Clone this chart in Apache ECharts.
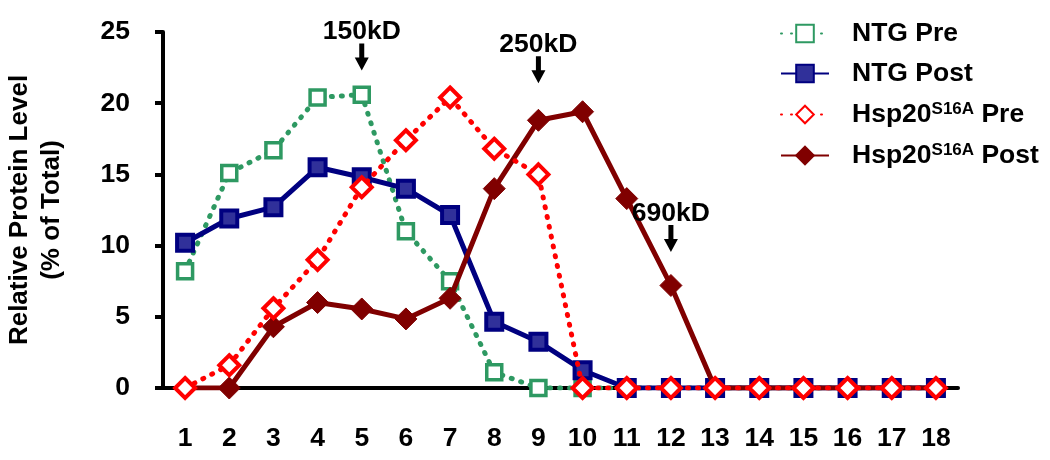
<!DOCTYPE html>
<html>
<head>
<meta charset="utf-8">
<script src="https://cdn.jsdelivr.net/npm/echarts@6/dist/echarts.min.js"></script>
<style>html,body{margin:0;padding:0;background:#fff}#c{width:1050px;height:460px}</style>
</head>
<body>
<div id="c"></div>
<script>
var categories = ['1','2','3','4','5','6','7','8','9','10','11','12','13','14','15','16','17','18'];
var ntgPre  = [8.2, 15.1, 16.7, 20.4, 20.6, 11.0, 7.5, 1.1, 0, 0, 0, 0, 0, 0, 0, 0, 0, 0];
var ntgPost = [10.2, 11.9, 12.7, 15.5, 14.8, 14.0, 12.15, 4.65, 3.25, 1.25, 0, 0, 0, 0, 0, 0, 0, 0];
var hspPre  = [0, 1.6, 5.6, 9.0, 14.1, 17.4, 20.4, 16.8, 15.0, 0, 0, 0, 0, 0, 0, 0, 0, 0];
var hspPost = [0, 0, 4.3, 6.0, 5.55, 4.85, 6.3, 14.0, 18.8, 19.4, 13.3, 7.2, 0, 0, 0, 0, 0, 0];
var yTicks = {min: 0, max: 25, interval: 5};
var annotations = [
  {label: '150kD', x: 4.1, y: 22.3},
  {label: '250kD', x: 8.0, y: 21.4},
  {label: '690kD', x: 11.1, y: 9.55}
];
var seriesNames = ['NTG Pre', 'NTG Post', 'Hsp20S16A Pre', 'Hsp20S16A Post'];

var FONT = '"Liberation Sans", Arial, sans-serif';
var chart = echarts.init(document.getElementById('c'));
var dotted = [1, 9];
var arrowPath = 'path://M4.5,0 L9.5,0 L9.5,14 L14,14 L7,27 L0,14 L4.5,14 Z';

chart.setOption({
  animation: false,
  textStyle: {fontFamily: FONT},
  grid: {left: 163, right: 92, top: 32, bottom: 72, containLabel: false, outerBoundsMode: 'none'},
  legend: {
    orient: 'vertical',
    left: 775,
    top: 15,
    itemWidth: 48,
    itemHeight: 22,
    itemGap: 13,
    data: seriesNames,
    formatter: function (name) {
      if (name.indexOf('Hsp20S16A') === 0) {
        return '{a|Hsp20}{s|S16A}{a|' + name.replace('Hsp20S16A', '') + '}';
      }
      return '{a|' + name + '}';
    },
    textStyle: {
      padding: [0, 0, 0, 18],
      rich: {
        a: {fontFamily: FONT, fontSize: 26.5, fontWeight: 'bold', color: '#000', lineHeight: 29},
        s: {fontFamily: FONT, fontSize: 17, fontWeight: 'bold', color: '#000', lineHeight: 17, verticalAlign: 'top', padding: [1, 0, 0, 0]}
      }
    }
  },
  xAxis: {
    type: 'category',
    data: categories,
    boundaryGap: true,
    axisLine: {lineStyle: {color: '#000', width: 4}},
    axisTick: {interval: 0, length: 10, lineStyle: {color: '#000', width: 4}},
    axisLabel: {interval: 0, margin: 37, fontFamily: FONT, fontSize: 26.5, fontWeight: 'bold', color: '#000'},
    splitLine: {show: false}
  },
  yAxis: {
    type: 'value',
    min: yTicks.min, max: yTicks.max, interval: yTicks.interval,
    name: 'Relative Protein Level\n(% of Total)',
    nameLocation: 'middle',
    nameGap: 95,
    nameRotate: 90,
    nameTextStyle: {fontFamily: FONT, fontSize: 26, fontWeight: 'bold', color: '#000', lineHeight: 32},
    axisLine: {show: true, lineStyle: {color: '#000', width: 4}},
    axisTick: {show: true, length: 8, lineStyle: {color: '#000', width: 4}},
    axisLabel: {margin: 33, fontFamily: FONT, fontSize: 26.5, fontWeight: 'bold', color: '#000'},
    splitLine: {show: false}
  },
  series: [
    {
      name: seriesNames[0], type: 'line', data: ntgPre, z: 2,
      symbol: 'rect', symbolSize: 15,
      lineStyle: {color: '#2e9962', width: 5, type: dotted, cap: 'round'},
      itemStyle: {color: '#ffffff', borderColor: '#2e9962', borderWidth: 3.5}
    },
    {
      name: seriesNames[1], type: 'line', data: ntgPost, z: 3,
      symbol: 'rect', symbolSize: 16,
      lineStyle: {color: '#000080', width: 5},
      itemStyle: {color: '#30309a', borderColor: '#000080', borderWidth: 4}
    },
    {
      name: seriesNames[2], type: 'line', data: hspPre, z: 5,
      symbol: 'diamond', symbolSize: 20,
      lineStyle: {color: '#ff0000', width: 5, type: dotted, cap: 'round'},
      itemStyle: {color: '#ffffff', borderColor: '#ff0000', borderWidth: 4}
    },
    {
      name: seriesNames[3], type: 'line', data: hspPost, z: 4,
      symbol: 'diamond', symbolSize: 22,
      lineStyle: {color: '#800000', width: 5},
      itemStyle: {color: '#800000', borderColor: '#800000', borderWidth: 1},
      markPoint: {
        symbol: arrowPath,
        symbolSize: [14, 27],
        symbolOffset: [0, '-50%'],
        itemStyle: {color: '#000', borderWidth: 0},
        label: {show: true, position: 'top', distance: -2, fontFamily: FONT, fontSize: 26.5, fontWeight: 'bold', color: '#000'},
        data: annotations.map(function (a) {
          return {coord: [a.x, a.y], value: a.label, label: {formatter: a.label}};
        })
      }
    }
  ]
});
</script>
</body>
</html>
